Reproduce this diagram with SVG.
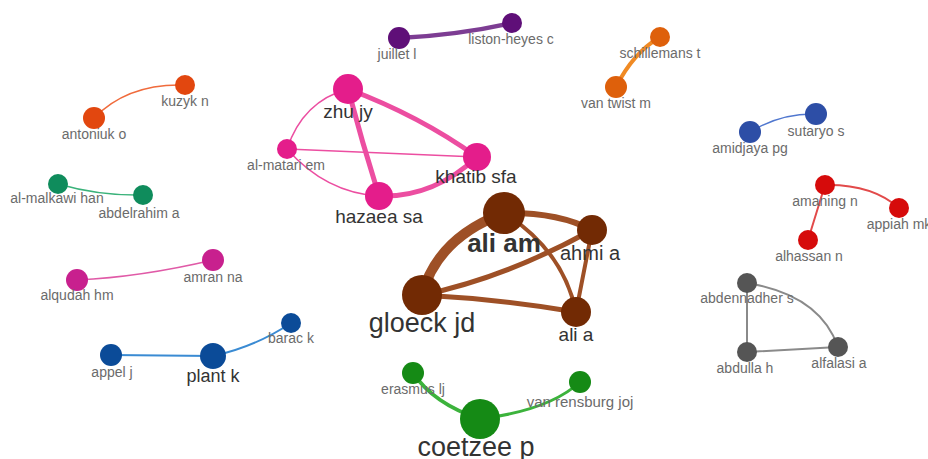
<svg xmlns="http://www.w3.org/2000/svg" width="928" height="459" viewBox="0 0 928 459">
<style>
text{font-family:"Liberation Sans",Arial,sans-serif;text-anchor:middle}
.s{font-size:14px;fill:#6b6b6b}
.m{font-size:19px;fill:#333}
.l{font-size:27px;fill:#333}
path{fill:none;stroke-linecap:round}
</style>
<rect width="928" height="459" fill="#fff"/>
<g id="connectors">
<path d="M94,118 Q128,83 185,85" stroke="#f06b3c" stroke-width="1.5"/>
<path d="M58,184 Q100,196 143,195" stroke="#3ab27a" stroke-width="1.5"/>
<path d="M399,38 Q458,35 512,23" stroke="#7d3d93" stroke-width="4.5"/>
<path d="M616,87 Q633,53 660,37" stroke="#f08a24" stroke-width="4"/>
<path d="M750,132 Q781,113 816,114" stroke="#5077cf" stroke-width="1.5"/>
<path d="M825,185 Q872,184 899,208" stroke="#e24a4a" stroke-width="2"/>
<path d="M825,185 L808,240" stroke="#e24a4a" stroke-width="2"/>
<path d="M77,280 Q141,277 213,260" stroke="#e05aa7" stroke-width="1.5"/>
<path d="M111,355 L213,356" stroke="#3a8bd3" stroke-width="2"/>
<path d="M213,356 Q255,347 291,323" stroke="#3a8bd3" stroke-width="2"/>
<path d="M348,89 Q420,116 477,157" stroke="#ec4ea1" stroke-width="5"/>
<path d="M348,89 Q362,142 379,196" stroke="#ec4ea1" stroke-width="5"/>
<path d="M379,196 Q433,198 477,157" stroke="#ec4ea1" stroke-width="5"/>
<path d="M287,149 Q303,101 348,89" stroke="#ec4ea1" stroke-width="1.5"/>
<path d="M287,149 L477,157" stroke="#ec4ea1" stroke-width="1.5"/>
<path d="M287,149 Q326,193 379,196" stroke="#ec4ea1" stroke-width="1.5"/>
<path d="M422,295 Q437,238 504,213" stroke="#9e5026" stroke-width="10"/>
<path d="M504,213 Q558,212 592,230" stroke="#9e5026" stroke-width="6"/>
<path d="M504,213 Q563,250 576,312" stroke="#9e5026" stroke-width="4"/>
<path d="M422,295 Q505,278 592,230" stroke="#9e5026" stroke-width="5"/>
<path d="M592,230 L576,312" stroke="#9e5026" stroke-width="4"/>
<path d="M422,295 Q498,299 576,312" stroke="#9e5026" stroke-width="5"/>
<path d="M747,283 L747,352" stroke="#8a8a8a" stroke-width="2"/>
<path d="M747,352 L838,347" stroke="#8a8a8a" stroke-width="2"/>
<path d="M747,283 Q820,295 838,347" stroke="#8a8a8a" stroke-width="2"/>
<path d="M413,373 Q434,404 480,419" stroke="#3cb33c" stroke-width="4"/>
<path d="M480,419 Q550,410 580,382" stroke="#3cb33c" stroke-width="3"/>
</g>
<g id="antoniuk-o"><circle cx="94" cy="118" r="11" fill="#e2470f"/><text class="s" x="94" y="139">antoniuk o</text></g>
<g id="kuzyk-n"><circle cx="185" cy="85" r="10" fill="#e2470f"/><text class="s" x="185" y="106">kuzyk n</text></g>
<g id="al-malkawi-han"><circle cx="58" cy="184" r="10" fill="#0f8c5c"/><text class="s" x="57" y="203">al-malkawi han</text></g>
<g id="abdelrahim-a"><circle cx="143" cy="195" r="10" fill="#0f8c5c"/><text class="s" x="139" y="218">abdelrahim a</text></g>
<g id="zhu-jy"><circle cx="348" cy="89" r="15" fill="#e41d8b"/><text class="m" x="348" y="118">zhu jy</text></g>
<g id="al-matari-em"><circle cx="287" cy="149" r="10" fill="#e41d8b"/><text class="s" x="286" y="170">al-matari em</text></g>
<g id="khatib-sfa"><circle cx="477" cy="157" r="14" fill="#e41d8b"/><text class="m" x="476" y="183">khatib sfa</text></g>
<g id="hazaea-sa"><circle cx="379" cy="196" r="14" fill="#e41d8b"/><text class="m" x="379" y="223">hazaea sa</text></g>
<g id="juillet-l"><circle cx="399" cy="38" r="11" fill="#5f0f78"/><text class="s" x="397" y="59">juillet l</text></g>
<g id="liston-heyes-c"><circle cx="512" cy="23" r="10" fill="#5f0f78"/><text class="s" x="511" y="44">liston-heyes c</text></g>
<g id="schillemans-t"><circle cx="660" cy="37" r="10" fill="#de600b"/><text class="s" x="660" y="58">schillemans t</text></g>
<g id="van-twist-m"><circle cx="616" cy="87" r="11" fill="#de600b"/><text class="s" x="616" y="108">van twist m</text></g>
<g id="sutaryo-s"><circle cx="816" cy="114" r="11" fill="#2d4ea6"/><text class="s" x="816" y="136">sutaryo s</text></g>
<g id="amidjaya-pg"><circle cx="750" cy="132" r="11" fill="#2d4ea6"/><text class="s" x="750" y="153">amidjaya pg</text></g>
<g id="amaning-n"><circle cx="825" cy="185" r="10" fill="#d60b0b"/><text class="s" x="825" y="206">amaning n</text></g>
<g id="appiah-mk"><circle cx="899" cy="208" r="10" fill="#d60b0b"/><text class="s" x="899" y="229">appiah mk</text></g>
<g id="alhassan-n"><circle cx="808" cy="240" r="10" fill="#d60b0b"/><text class="s" x="809" y="261">alhassan n</text></g>
<g id="alqudah-hm"><circle cx="77" cy="280" r="11" fill="#c8208e"/><text class="s" x="77" y="300">alqudah hm</text></g>
<g id="amran-na"><circle cx="213" cy="260" r="11" fill="#c8208e"/><text class="s" x="213" y="282">amran na</text></g>
<g id="barac-k"><circle cx="291" cy="323" r="10" fill="#0b4b98"/><text class="s" x="291" y="343">barac k</text></g>
<g id="appel-j"><circle cx="111" cy="355" r="11" fill="#0b4b98"/><text class="s" x="112" y="377">appel j</text></g>
<g id="plant-k"><circle cx="213" cy="356" r="13" fill="#0b4b98"/><text class="m" x="213" y="382" style="font-size:18px">plant k</text></g>
<g id="ali-am"><circle cx="504" cy="213" r="21" fill="#722a04"/><text class="l" x="504" y="252" style="font-weight:bold;font-size:26px">ali am</text></g>
<g id="ahmi-a"><circle cx="592" cy="230" r="15" fill="#722a04"/><text class="m" x="590" y="260" style="font-size:20px">ahmi a</text></g>
<g id="gloeck-jd"><circle cx="422" cy="295" r="20" fill="#722a04"/><text class="l" x="422" y="332">gloeck jd</text></g>
<g id="ali-a"><circle cx="576" cy="312" r="15" fill="#722a04"/><text class="m" x="576" y="341">ali a</text></g>
<g id="abdennadher-s"><circle cx="747" cy="283" r="10" fill="#555"/><text class="s" x="747" y="303">abdennadher s</text></g>
<g id="abdulla-h"><circle cx="747" cy="352" r="10" fill="#555"/><text class="s" x="745" y="373">abdulla h</text></g>
<g id="alfalasi-a"><circle cx="838" cy="347" r="10" fill="#555"/><text class="s" x="839" y="368">alfalasi a</text></g>
<g id="erasmus-lj"><circle cx="413" cy="373" r="11" fill="#158a15"/><text class="s" x="413" y="394">erasmus lj</text></g>
<g id="van-rensburg-joj"><circle cx="580" cy="382" r="11" fill="#158a15"/><text class="s" x="580" y="407" style="font-size:15px">van rensburg joj</text></g>
<g id="coetzee-p"><circle cx="480" cy="419" r="20" fill="#158a15"/><text class="l" x="476" y="456">coetzee p</text></g>
</svg>
